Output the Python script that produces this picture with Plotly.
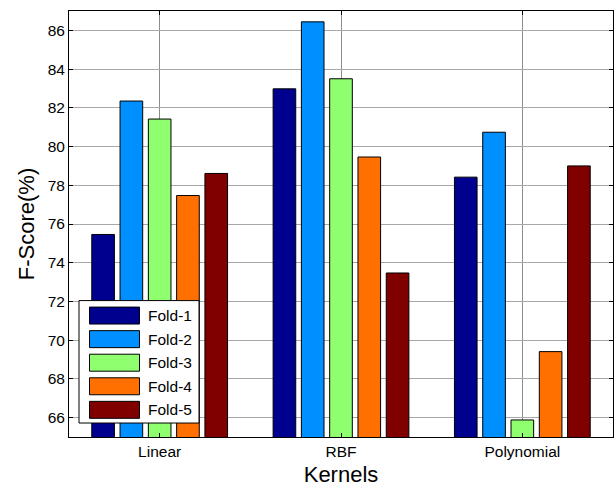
import plotly.graph_objects as go

# F-score per kernel for each cross-validation fold
kernels = ["Linear", "RBF", "Polynomial"]
fold_names = ["Fold-1", "Fold-2", "Fold-3", "Fold-4", "Fold-5"]
fold1 = [75.46, 82.98, 78.42]
fold2 = [82.35, 86.44, 80.74]
fold3 = [81.42, 83.50, 65.88]
fold4 = [77.47, 79.46, 69.41]
fold5 = [78.61, 73.47, 79.00]
y_ticks = [66, 68, 70, 72, 74, 76, 78, 80, 82, 84, 86]

fold_values = [fold1, fold2, fold3, fold4, fold5]
colors = ["#00008F", "#008FFF", "#8FFF70", "#FF7000", "#800000"]

W, H = 616, 492
L, R, T, B = 69, 613, 10.7, 437.3  # plot area in pixels
FONT = "Liberation Sans, Arial, sans-serif"

fig = go.Figure()
for name, vals, col in zip(fold_names, fold_values, colors):
    fig.add_trace(go.Bar(
        x=kernels, y=vals, name=name,
        marker=dict(color=col, line=dict(color="black", width=1)),
        showlegend=False,
    ))


def px_x(p):
    return (p - L) / (R - L)


def px_y(p):
    return (B - p) / (B - T)


# boxed legend with wide swatches
shapes = [dict(type="rect", xref="paper", yref="paper",
               x0=px_x(79), x1=px_x(199), y0=px_y(423.3), y1=px_y(300.7),
               fillcolor="white", line=dict(color="black", width=1), layer="above")]
annotations = []
for i, (name, col) in enumerate(zip(fold_names, colors)):
    cy = 315.7 + i * 23.6
    shapes.append(dict(type="rect", xref="paper", yref="paper",
                       x0=px_x(89.5), x1=px_x(139.5),
                       y0=px_y(cy + 8.5), y1=px_y(cy - 8.5),
                       fillcolor=col, line=dict(color="black", width=1), layer="above"))
    annotations.append(dict(xref="paper", yref="paper", x=px_x(146), y=px_y(cy),
                            text=name, showarrow=False, xanchor="left", yanchor="middle",
                            font=dict(family=FONT, size=15.5, color="black")))

fig.update_layout(
    width=W, height=H,
    margin=dict(l=L, r=W - R, t=T, b=H - B, pad=0),
    paper_bgcolor="white", plot_bgcolor="white",
    barmode="group", bargap=0.22, bargroupgap=0.2,
    font=dict(family=FONT, color="black"),
    shapes=shapes, annotations=annotations,
    xaxis=dict(
        type="category", range=[-0.5, 2.5],
        showline=True, linecolor="black", linewidth=1, mirror="ticks",
        ticks="inside", ticklen=4, tickcolor="black",
        showgrid=True, gridcolor="#8c8c8c", gridwidth=1,
        tickfont=dict(size=15.5, family=FONT),
        title=dict(text="Kernels", font=dict(size=22, family=FONT), standoff=8),
    ),
    yaxis=dict(
        range=[65, 87], tickvals=y_ticks,
        showline=True, linecolor="black", linewidth=1, mirror="ticks",
        ticks="inside", ticklen=4, tickcolor="black",
        showgrid=True, gridcolor="#a8a8a8", gridwidth=1,
        zeroline=False,
        tickfont=dict(size=15.5, family=FONT),
        title=dict(text="F-Score(%)", font=dict(size=22, family=FONT), standoff=6),
    ),
)

fig.write_html("out.html")
